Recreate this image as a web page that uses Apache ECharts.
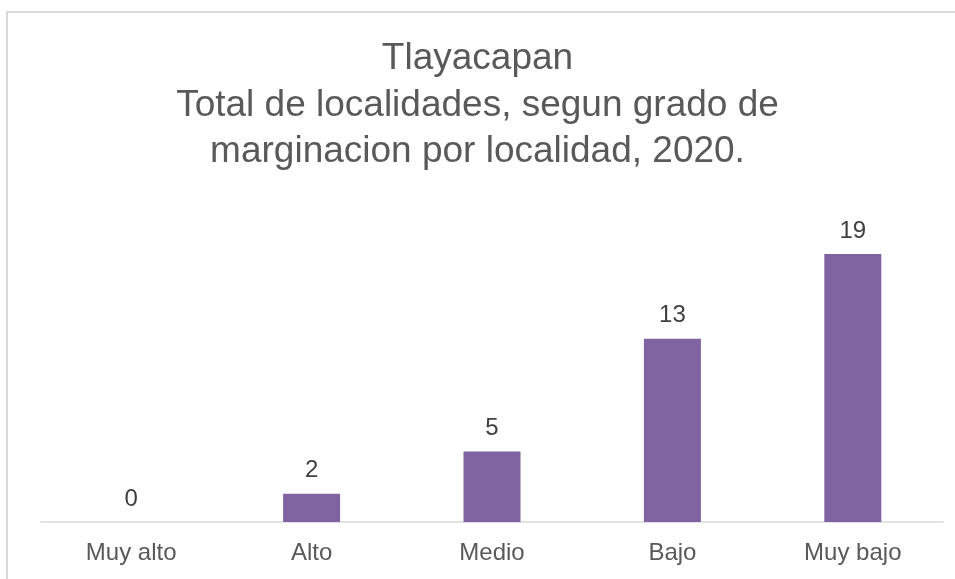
<!DOCTYPE html>
<html>
<head>
<meta charset="utf-8">
<script src="https://cdn.jsdelivr.net/npm/echarts@6/dist/echarts.min.js"></script>
<style>
  html, body { margin: 0; padding: 0; background: #fff; }
  #chart { width: 955px; height: 579px; }
</style>
</head>
<body>
<div id="chart"></div>
<script>
// datos
const categorias = ["Muy alto", "Alto", "Medio", "Bajo", "Muy bajo"]
const localidades = [0, 2, 5, 13, 19]
const titulo = "Tlayacapan\nTotal de localidades, segun grado de\nmarginacion por localidad, 2020."

const chart = echarts.init(document.getElementById("chart"))

const option = {
  animation: false,
  backgroundColor: "#ffffff",
  textStyle: { fontFamily: "Liberation Sans, Arial, sans-serif" },
  graphic: [
    {
      // marco del grafico
      type: "rect",
      shape: { x: 7, y: 12, width: 1000, height: 1000 },
      style: { fill: "none", stroke: "#D9D9D9", lineWidth: 2 },
      silent: true,
    },
  ],
  title: {
    text: titulo,
    left: "center",
    top: 36,
    padding: [0, 0, 0, 8],
    textStyle: {
      color: "#595959",
      fontSize: 37,
      fontWeight: "normal",
      lineHeight: 46.5,
      fontFamily: "Liberation Sans, Arial, sans-serif",
    },
  },
  grid: {
    left: 41,
    right: 12,
    top: 240,
    bottom: 57,
  },
  xAxis: {
    type: "category",
    data: categorias,
    axisTick: { show: false },
    axisLine: { lineStyle: { color: "#D9D9D9", width: 1.5 } },
    axisLabel: {
      color: "#595959",
      fontSize: 24,
      margin: 19,
    },
  },
  yAxis: {
    type: "value",
    min: 0,
    max: 20,
    show: false,
    splitLine: { show: false },
  },
  series: [
    {
      type: "bar",
      data: localidades,
      barWidth: 57,
      itemStyle: { color: "#8064A2" },
      label: {
        show: true,
        position: "top",
        distance: 11,
        color: "#404040",
        fontSize: 24,
      },
    },
  ],
}

chart.setOption(option)
</script>
</body>
</html>
